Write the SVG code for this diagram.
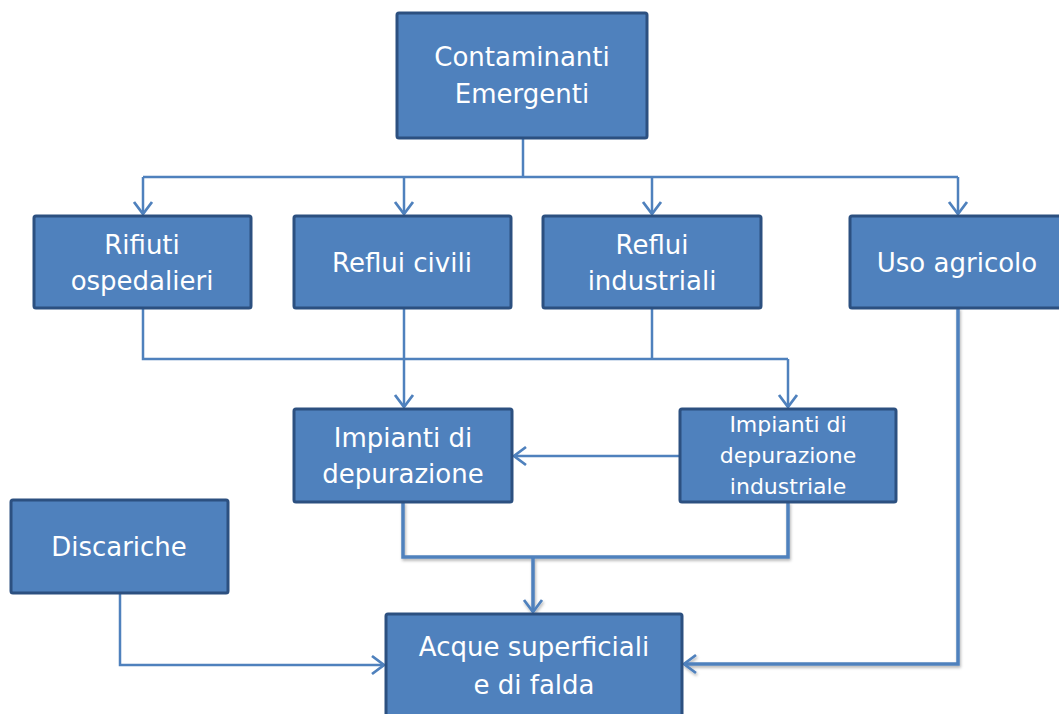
<svg xmlns="http://www.w3.org/2000/svg" width="1059" height="714" viewBox="0 0 1059 714">
  <style>
    .box { fill: #4F81BD; stroke: #2C5080; stroke-width: 3; }
    .lbl { fill: #FFFFFF; font-family: "Comic Sans MS", "DejaVu Sans", "Open Sans", sans-serif; font-size: 26px; text-anchor: middle; }
    .sm { font-size: 22px; }
    .ln { fill: none; stroke: #4F81BD; stroke-width: 2.5; }
    .lnb { fill: none; stroke: #4F81BD; stroke-width: 3.5; }
  </style>
  <defs>
    <marker id="arr" markerWidth="17" markerHeight="22" refX="14" refY="11" orient="auto" markerUnits="userSpaceOnUse" viewBox="0 0 17 22">
      <path d="M2,2 L14,11 L2,20" fill="none" stroke="#4F81BD" stroke-width="2.8"/>
    </marker>
    <filter id="sh" x="-5%" y="-5%" width="110%" height="110%">
      <feDropShadow dx="1" dy="2" stdDeviation="1.5" flood-color="#000" flood-opacity="0.3"/>
    </filter>
  </defs>

  <g id="connectors">
    <path class="ln" d="M523,138 V177"/>
    <path class="ln" d="M143,177 H958"/>
    <path class="ln" d="M143,177 V214" marker-end="url(#arr)"/>
    <path class="ln" d="M404,177 V214" marker-end="url(#arr)"/>
    <path class="ln" d="M652,177 V214" marker-end="url(#arr)"/>
    <path class="ln" d="M958,177 V214" marker-end="url(#arr)"/>
    <path class="ln" d="M143,308 V359 H788"/>
    <path class="ln" d="M404,308 V407" marker-end="url(#arr)"/>
    <path class="ln" d="M652,308 V359"/>
    <path class="ln" d="M788,359 V407" marker-end="url(#arr)"/>
    <path class="ln" d="M680,456 H514" marker-end="url(#arr)"/>
    <g filter="url(#sh)">
      <path class="lnb" d="M403,502 V557 H788 V502"/>
      <path class="lnb" d="M533,557 V612" marker-end="url(#arr)"/>
      <path class="lnb" d="M958,308 V664 H684" marker-end="url(#arr)"/>
    </g>
    <path class="ln" d="M120,593 V665 H384" marker-end="url(#arr)"/>
  </g>

  <g id="contaminanti">
    <rect class="box" x="397" y="13" width="250" height="125" rx="2"/>
    <text class="lbl" x="522" y="66">Contaminanti</text>
    <text class="lbl" x="522" y="103">Emergenti</text>
  </g>
  <g id="rifiuti">
    <rect class="box" x="34" y="216" width="217" height="92" rx="2"/>
    <text class="lbl" x="142" y="254">Rifiuti</text>
    <text class="lbl" x="142" y="290">ospedalieri</text>
  </g>
  <g id="reflui-civili">
    <rect class="box" x="294" y="216" width="217" height="92" rx="2"/>
    <text class="lbl" x="402" y="272">Reflui civili</text>
  </g>
  <g id="reflui-industriali">
    <rect class="box" x="543" y="216" width="218" height="92" rx="2"/>
    <text class="lbl" x="652" y="254">Reflui</text>
    <text class="lbl" x="652" y="290">industriali</text>
  </g>
  <g id="uso-agricolo">
    <rect class="box" x="850" y="216" width="212" height="92" rx="2"/>
    <text class="lbl" x="957" y="272">Uso agricolo</text>
  </g>
  <g id="impianti">
    <rect class="box" x="294" y="409" width="218" height="93" rx="2"/>
    <text class="lbl" x="403" y="447">Impianti di</text>
    <text class="lbl" x="403" y="483">depurazione</text>
  </g>
  <g id="impianti-industriale">
    <rect class="box" x="680" y="409" width="216" height="93" rx="2"/>
    <text class="lbl sm" x="788" y="432">Impianti di</text>
    <text class="lbl sm" x="788" y="463">depurazione</text>
    <text class="lbl sm" x="788" y="494">industriale</text>
  </g>
  <g id="discariche">
    <rect class="box" x="11" y="500" width="217" height="93" rx="2"/>
    <text class="lbl" x="119" y="556">Discariche</text>
  </g>
  <g id="acque">
    <rect class="box" x="386" y="614" width="296" height="104" rx="2"/>
    <text class="lbl" x="534" y="656">Acque superficiali</text>
    <text class="lbl" x="534" y="694">e di falda</text>
  </g>
</svg>
